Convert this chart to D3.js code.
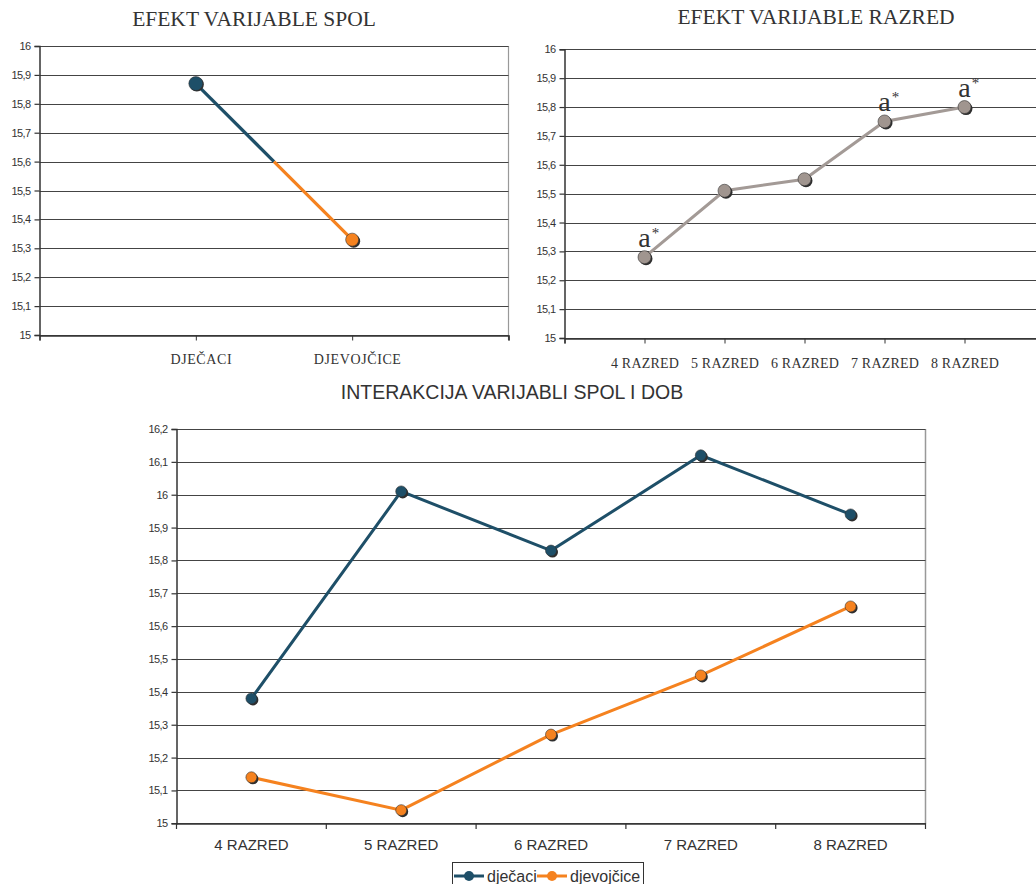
<!DOCTYPE html>
<html>
<head>
<meta charset="utf-8">
<script src="https://cdn.jsdelivr.net/npm/d3@7"></script>
<style>
  html, body { margin: 0; padding: 0; background: #fff; }
  svg { display: block; }
</style>
</head>
<body>
<svg id="chart" width="1036" height="884"></svg>
<script>
// ---------- DATA ----------
const spolCategories = ["DJEČACI", "DJEVOJČICE"];
const spolValues = [15.87, 15.33];
const spolTicks = [15, 15.1, 15.2, 15.3, 15.4, 15.5, 15.6, 15.7, 15.8, 15.9, 16];

const razredCategories = ["4 RAZRED", "5 RAZRED", "6 RAZRED", "7 RAZRED", "8 RAZRED"];
const razredValues = [15.28, 15.51, 15.55, 15.75, 15.80];
const razredMarks = ["a", "", "", "a", "a"];
const razredTicks = [15, 15.1, 15.2, 15.3, 15.4, 15.5, 15.6, 15.7, 15.8, 15.9, 16];

const interCategories = ["4 RAZRED", "5 RAZRED", "6 RAZRED", "7 RAZRED", "8 RAZRED"];
const djecaciValues = [15.38, 16.01, 15.83, 16.12, 15.94];
const djevojciceValues = [15.14, 15.04, 15.27, 15.45, 15.66];
const interTicks = [15, 15.1, 15.2, 15.3, 15.4, 15.5, 15.6, 15.7, 15.8, 15.9, 16, 16.1, 16.2];
const legendLabels = ["dječaci", "djevojčice"];

const titles = ["EFEKT VARIJABLE SPOL", "EFEKT VARIJABLE RAZRED", "INTERAKCIJA VARIJABLI SPOL I DOB"];

// ---------- STYLE ----------
const BLUE = "#1e4f68";
const ORANGE = "#f5821f";
const GRAYLINE = "#a39a96";
const GRAYMARK = "#a0958f";
const SHADOW = "#2e2e2e";
const GRID = "#444";
const TXT = "#333";
const SERIF = "'Liberation Serif', 'Times New Roman', serif";
const SANS = "'Liberation Sans', Arial, sans-serif";

const svg = d3.select("#chart");
const fmt = d => String(Math.round(d * 10) / 10).replace(".", ",");

function yAxisWithGrid(g, y, ticks, x0, x1, gridColor) {
  g.append("g").selectAll("line").data(ticks).join("line")
    .attr("x1", x0).attr("x2", x1)
    .attr("y1", d => Math.round(y(d)) + 0.5).attr("y2", d => Math.round(y(d)) + 0.5)
    .attr("stroke", gridColor).attr("stroke-width", 1.2);
  const ax = g.append("g").attr("transform", `translate(${x0},0)`)
    .call(d3.axisLeft(y).tickValues(ticks).tickFormat(fmt).tickSize(5).tickPadding(4));
  ax.select(".domain").attr("stroke", TXT).attr("stroke-width", 1.5);
  ax.selectAll(".tick line").attr("stroke", TXT).attr("stroke-width", 1.2);
  ax.selectAll(".tick text").attr("fill", TXT).style("font-family", SANS)
    .style("font-size", "11px").style("letter-spacing", "-0.6px");
  return ax;
}

function marker(g, cx, cy, r, fill, off) {
  g.append("circle").attr("cx", cx + off).attr("cy", cy + off).attr("r", r).attr("fill", SHADOW);
  g.append("circle").attr("cx", cx).attr("cy", cy).attr("r", r).attr("fill", fill)
    .attr("stroke", "#333").attr("stroke-width", 0.6);
}

// ============ CHART 1: EFEKT VARIJABLE SPOL ============
{
  const g = svg.append("g");
  const y = d3.scaleLinear().domain([15, 16]).range([335, 46]);
  const x = d3.scalePoint().domain(["_l", ...spolCategories, "_r"]).range([39.5, 508.5]);
  g.append("text").attr("x", 254).attr("y", 26).attr("text-anchor", "middle")
    .attr("fill", TXT).style("font-family", SERIF).style("font-size", "21.5px").text(titles[0]);
  // right border
  g.append("line").attr("x1", 508.5).attr("x2", 508.5).attr("y1", 46).attr("y2", 340)
    .attr("stroke", "#999").attr("stroke-width", 1.2);
  yAxisWithGrid(g, y, spolTicks, 39.5, 508.5, GRID);
  // x axis
  const xa = g.append("g").attr("transform", `translate(0,${Math.round(y(15)) + 0.5})`)
    .call(d3.axisBottom(x).tickSize(5).tickPadding(14).tickFormat(d => d.startsWith("_") ? "" : d));
  xa.select(".domain").attr("stroke", TXT).attr("stroke-width", 1.5);
  xa.selectAll(".tick line").attr("stroke", TXT);
  xa.selectAll(".tick text").attr("fill", TXT).attr("dx", 5).style("font-family", SERIF)
    .style("font-size", "14px").style("letter-spacing", "0.6px");
  // split line
  const p1 = [x(spolCategories[0]), y(spolValues[0])];
  const p2 = [x(spolCategories[1]), y(spolValues[1])];
  const pm = [(p1[0] + p2[0]) / 2, (p1[1] + p2[1]) / 2];
  g.append("line").attr("x1", p1[0]).attr("y1", p1[1]).attr("x2", pm[0]).attr("y2", pm[1])
    .attr("stroke", BLUE).attr("stroke-width", 3.2);
  g.append("line").attr("x1", pm[0]).attr("y1", pm[1]).attr("x2", p2[0]).attr("y2", p2[1])
    .attr("stroke", ORANGE).attr("stroke-width", 3.2);
  marker(g, p1[0], p1[1], 7, BLUE, 1);
  marker(g, p2[0], p2[1], 6.5, ORANGE, 1.5);
}

// ============ CHART 2: EFEKT VARIJABLE RAZRED ============
{
  const g = svg.append("g");
  const y = d3.scaleLinear().domain([15, 16]).range([338, 49.3]);
  const x = d3.scalePoint().domain(["_l", ...razredCategories, "_r"]).range([564.5, 1044.5]);
  g.append("text").attr("x", 816).attr("y", 24).attr("text-anchor", "middle")
    .attr("fill", TXT).style("font-family", SERIF).style("font-size", "21.5px")
    .text(titles[1]);
  yAxisWithGrid(g, y, razredTicks, 564.5, 1036, GRID);
  const xa = g.append("g").attr("transform", `translate(0,${Math.round(y(15)) + 0.5})`)
    .call(d3.axisBottom(x).tickSize(5).tickPadding(15).tickFormat(d => d.startsWith("_") ? "" : d));
  xa.select(".domain").attr("stroke", TXT).attr("stroke-width", 1.5);
  xa.selectAll(".tick line").attr("stroke", TXT);
  xa.selectAll(".tick text").attr("fill", TXT).style("font-family", SERIF)
    .style("font-size", "14px").style("letter-spacing", "0.2px");
  const line = d3.line().x((d, i) => x(razredCategories[i])).y(d => y(d));
  g.append("path").datum(razredValues).attr("d", line).attr("fill", "none")
    .attr("stroke", GRAYLINE).attr("stroke-width", 3);
  razredValues.forEach((v, i) => marker(g, x(razredCategories[i]), y(v), 6.5, GRAYMARK, 1.5));
  razredValues.forEach((v, i) => {
    if (!razredMarks[i]) return;
    const cx = x(razredCategories[i]), cy = y(v);
    g.append("text").attr("x", cx).attr("y", cy - 10).attr("text-anchor", "middle")
      .attr("fill", TXT).style("font-family", SERIF).style("font-size", "28px").text(razredMarks[i]);
    g.append("text").attr("x", cx + 11).attr("y", cy - 19).attr("text-anchor", "middle")
      .attr("fill", TXT).style("font-family", SERIF).style("font-size", "15px").text("*");
  });
}

// ============ CHART 3: INTERAKCIJA ============
{
  const g = svg.append("g");
  const y = d3.scaleLinear().domain([15, 16.2]).range([823.3, 429]);
  const x = d3.scaleBand().domain(interCategories).range([176.5, 925.5]);
  g.append("text").attr("x", 512).attr("y", 399).attr("text-anchor", "middle")
    .attr("fill", TXT).style("font-family", SANS).style("font-size", "19.5px").text(titles[2]);
  g.append("line").attr("x1", 925.5).attr("x2", 925.5).attr("y1", 429).attr("y2", 824)
    .attr("stroke", "#999").attr("stroke-width", 1.5);
  yAxisWithGrid(g, y, interTicks, 176.5, 925.5, GRID);
  const xa = g.append("g").attr("transform", `translate(0,${Math.round(y(15)) + 0.5})`)
    .call(d3.axisBottom(x).tickSize(0).tickPadding(16));
  xa.select(".domain").attr("stroke", TXT).attr("stroke-width", 1.5);
  xa.selectAll(".tick text").attr("fill", TXT).style("font-family", SANS).style("font-size", "15px");
  // category boundary ticks
  const edges = [...interCategories.map(c => x(c)), x.range()[1]];
  g.append("g").selectAll("line").data(edges).join("line")
    .attr("x1", d => d).attr("x2", d => d)
    .attr("y1", Math.round(y(15)) + 0.5).attr("y2", Math.round(y(15)) + 6)
    .attr("stroke", TXT).attr("stroke-width", 1.2);
  const cx = c => x(c) + x.bandwidth() / 2;
  const line = d3.line().x((d, i) => cx(interCategories[i])).y(d => y(d));
  [[djecaciValues, BLUE], [djevojciceValues, ORANGE]].forEach(([vals, col]) => {
    g.append("path").datum(vals).attr("d", line).attr("fill", "none")
      .attr("stroke", col).attr("stroke-width", 3);
    vals.forEach((v, i) => marker(g, cx(interCategories[i]), y(v), 5.5, col, 1.5));
  });
  // legend
  const lg = g.append("g");
  lg.append("rect").attr("x", 452.5).attr("y", 862.5).attr("width", 191).attr("height", 30)
    .attr("fill", "#fff").attr("stroke", "#333").attr("stroke-width", 1);
  const items = [[legendLabels[0], BLUE, 454, 487], [legendLabels[1], ORANGE, 537, 570]];
  items.forEach(([lab, col, lx, tx]) => {
    lg.append("line").attr("x1", lx).attr("x2", lx + 30).attr("y1", 876).attr("y2", 876)
      .attr("stroke", col).attr("stroke-width", 3);
    lg.append("circle").attr("cx", lx + 15).attr("cy", 876).attr("r", 5).attr("fill", col);
    lg.append("text").attr("x", tx).attr("y", 882).attr("fill", TXT)
      .style("font-family", SANS).style("font-size", "16px").text(lab);
  });
}
</script>
</body>
</html>
